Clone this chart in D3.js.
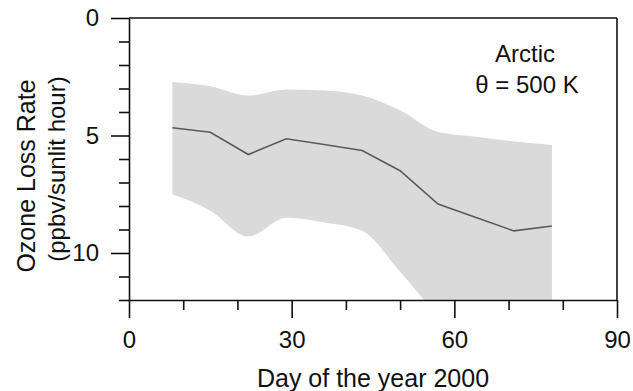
<!DOCTYPE html>
<html>
<head>
<meta charset="utf-8">
<script src="https://cdn.jsdelivr.net/npm/d3@7"></script>
<style>
body { margin: 0; background: #fff; }
text { font-family: "Liberation Sans", Arial, sans-serif; }
</style>
</head>
<body>
<div id="chart"></div>
<script>
var w = 633;
var h = 391;

// day of the year 2000
var days = [8, 15, 22, 29, 36, 43, 50, 57, 64, 71, 78];
// mean ozone loss rate (ppbv/sunlit hour)
var rate = [4.67, 4.86, 5.81, 5.14, 5.38, 5.64, 6.5, 7.92, 8.49, 9.06, 8.85];
// shaded range, upper and lower edge (runs off the bottom after day 55)
var rateLow = [2.72, 2.9, 3.3, 3.04, 3.08, 3.3, 3.93, 4.85, 5.05, 5.25, 5.4];
var rateHigh = [7.5, 8.2, 9.3, 8.5, 8.7, 9.05, 10.8, 12.6, 13.5, 13.5, 13.5];

var xTicks = [0, 30, 60, 90];
var yTicks = [0, 5, 10];

var svg = d3.select("#chart")
    .append("svg")
        .attr("width", w)
        .attr("height", h);

var x = d3.scaleLinear()
    .domain([0, 90])
    .range([129, 617]);

var y = d3.scaleLinear()
    .domain([0, 12])
    .range([18, 300]);

svg.append("clipPath")
    .attr("id", "plot-clip")
    .append("rect")
        .attr("x", x(0))
        .attr("y", y(0))
        .attr("width", x(90) - x(0))
        .attr("height", y(12) - y(0));

var area = d3.area()
    .curve(d3.curveMonotoneX)
    .x(function(d){ return x(d); })
    .y0(function(d, i){ return y(rateLow[i]); })
    .y1(function(d, i){ return y(rateHigh[i]); });

svg.append("path")
    .datum(days)
    .attr("clip-path", "url(#plot-clip)")
    .attr("d", area)
    .attr("fill", "#dadada");

var line = d3.line()
    .x(function(d){ return x(d); })
    .y(function(d, i){ return y(rate[i]); });

svg.append("path")
    .datum(days)
    .attr("d", line)
    .attr("fill", "none")
    .attr("stroke", "#5a5a5a")
    .attr("stroke-width", 1.6);

// axes
var xAxis = d3.axisBottom(x)
    .tickValues(d3.range(0, 91, 10))
    .tickSizeOuter(0)
    .tickSizeInner(10)
    .tickFormat(function(d){
        return xTicks.indexOf(d) >= 0 ? d : "";
    });

var gx = svg.append("g")
    .attr("transform", "translate(0," + y(12) + ")")
    .attr("color", "#111")
    .call(xAxis);

gx.selectAll(".tick line")
    .attr("y2", function(d){ return xTicks.indexOf(d) >= 0 ? 18 : 10; });

var yAxis = d3.axisLeft(y)
    .tickValues(d3.range(0, 13, 1))
    .tickSizeOuter(0)
    .tickSizeInner(10)
    .tickFormat(function(d){
        return yTicks.indexOf(d) >= 0 ? d : "";
    });

var gy = svg.append("g")
    .attr("transform", "translate(" + x(0) + ",0)")
    .attr("color", "#111")
    .call(yAxis);

gy.selectAll(".tick line")
    .attr("x2", function(d){ return yTicks.indexOf(d) >= 0 ? -18 : -10; });

svg.selectAll(".domain, .tick line")
    .attr("stroke-width", 1.6);

gx.selectAll(".tick text")
    .attr("y", 31)
    .attr("font-size", 24)
    .attr("fill", "#111");

gy.selectAll(".tick text")
    .attr("x", -30)
    .attr("font-size", 24)
    .attr("fill", "#111");

svg.selectAll("g").attr("font-family", null);

// top and right frame
svg.append("line")
    .attr("x1", x(0)).attr("x2", x(90))
    .attr("y1", y(0)).attr("y2", y(0))
    .attr("stroke", "#111")
    .attr("stroke-width", 1.6);

svg.append("line")
    .attr("x1", x(90)).attr("x2", x(90))
    .attr("y1", y(0)).attr("y2", y(12))
    .attr("stroke", "#111")
    .attr("stroke-width", 1.6);

// titles
svg.append("text")
    .attr("x", (x(0) + x(90)) / 2)
    .attr("y", 387)
    .attr("text-anchor", "middle")
    .attr("font-size", 25)
    .attr("fill", "#111")
    .text("Day of the year 2000");

svg.append("text")
    .attr("transform", "translate(35,176) rotate(-90)")
    .attr("text-anchor", "middle")
    .attr("font-size", 25)
    .attr("fill", "#111")
    .text("Ozone Loss Rate");

svg.append("text")
    .attr("transform", "translate(65,169) rotate(-90)")
    .attr("text-anchor", "middle")
    .attr("font-size", 24)
    .attr("fill", "#111")
    .text("(ppbv/sunlit hour)");

svg.append("text")
    .attr("x", 525)
    .attr("y", 62)
    .attr("text-anchor", "middle")
    .attr("font-size", 24)
    .attr("fill", "#111")
    .text("Arctic");

svg.append("text")
    .attr("x", 527)
    .attr("y", 93)
    .attr("text-anchor", "middle")
    .attr("font-size", 24)
    .attr("fill", "#111")
    .text("θ = 500 K");
</script>
</body>
</html>
